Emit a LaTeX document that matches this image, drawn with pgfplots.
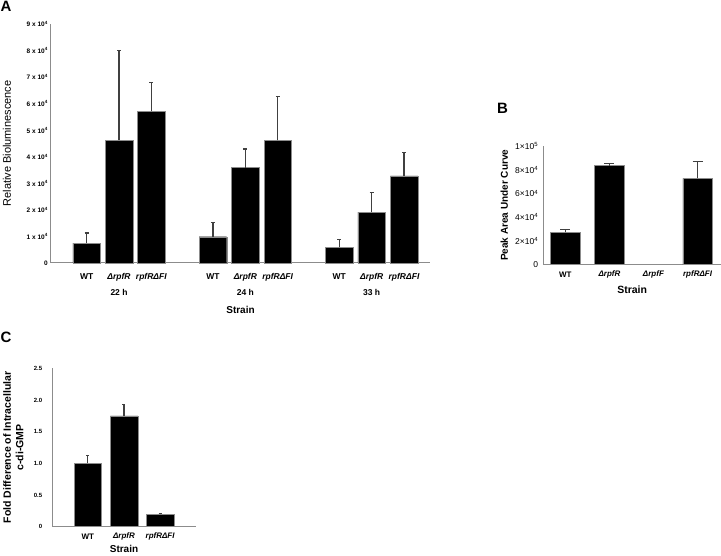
\documentclass[border=0pt]{standalone}
\usepackage{pgfplots}
\pgfplotsset{compat=1.18}
\usepackage{fontspec}
\setmainfont{Liberation Sans}
\definecolor{axgray}{HTML}{8C8C8C}
\definecolor{errgray}{HTML}{404040}
\pgfplotsset{
  panel/.style={
    scale only axis, clip=false,
    axis lines=left, axis line style={-, draw=axgray, line width=1pt},
    major tick length=0pt,
    yticklabel style={inner sep=0pt},
    every axis x label/.style={at={(axis description cs:0.5,0)}, anchor=center},
  },
  ylab/.style={every axis y label/.style={at={([xshift=-#1]axis description cs:0,0.5)}, rotate=90, anchor=center}},
  barplot/.style={
    ybar, bar shift=0pt, fill=black, draw=axgray, line width=0.4pt,
    error bars/.cd, y dir=plus, y explicit, error mark=|,
    error bar style={line width=1.3pt, errgray},
    error mark options={line width=1.3pt, errgray, mark size=#1},
    /pgfplots/.cd,
  },
}
\begin{document}
\begin{tikzpicture}[x=1pt,y=1pt]
\useasboundingbox (0,0) rectangle (721,556);

% panel A
\begin{axis}[panel, ylab=44pt,
  at={(51pt,293pt)}, anchor=south west,
  width=379pt, height=239pt,
  xmin=-1.1, xmax=10.6, ymin=0, ymax=9,
  ytick={0,1,...,9},
  yticklabels={0,1 x 10\textsuperscript{4},2 x 10\textsuperscript{4},3 x 10\textsuperscript{4},4 x 10\textsuperscript{4},5 x 10\textsuperscript{4},6 x 10\textsuperscript{4},7 x 10\textsuperscript{4},8 x 10\textsuperscript{4},9 x 10\textsuperscript{4}},
  yticklabel style={font=\fontsize{6.5}{7.5}\bfseries\selectfont, xshift=-3pt},
  xtick={0,1,2,3.9,4.9,5.9,7.8,8.8,9.8},
  xticklabels={WT,\textit{ΔrpfR},\textit{rpfRΔFI},WT,\textit{ΔrpfR},\textit{rpfRΔFI},WT,\textit{ΔrpfR},\textit{rpfRΔFI}},
  xticklabel style={font=\fontsize{8.5}{9}\bfseries\selectfont, anchor=center, yshift=-14pt},
  xlabel={Strain}, xlabel style={font=\fontsize{10}{11}\bfseries\selectfont, yshift=-47pt},
  ylabel={Relative Bioluminescence}, ylabel style={font=\fontsize{11}{12}\selectfont},
]
\addplot[bar width=27.5pt, barplot=2pt] coordinates {
  (0,0.75) +- (0,0.38)
  (1,4.63) +- (0,3.37)
  (2,5.71) +- (0,1.10)
  (3.9,0.99) +- (0,0.53)
  (4.9,3.59) +- (0,0.70)
  (5.9,4.62) +- (0,1.64)
  (7.8,0.59) +- (0,0.30)
  (8.8,1.92) +- (0,0.73)
  (9.8,3.28) +- (0,0.87)
};
\node[font=\fontsize{8.5}{9}\bfseries\selectfont] at (axis cs:1,0) [yshift=-29pt] {22 h};
\node[font=\fontsize{8.5}{9}\bfseries\selectfont] at (axis cs:4.9,0) [yshift=-29pt] {24 h};
\node[font=\fontsize{8.5}{9}\bfseries\selectfont] at (axis cs:8.8,0) [yshift=-29pt] {33 h};
\end{axis}

% panel B
\begin{axis}[panel, ylab=39pt,
  at={(543.3pt,291.3pt)}, anchor=south west,
  width=177.7pt, height=118.7pt,
  xmin=-0.5, xmax=3.53, ymin=0, ymax=100000,
  ytick={0,20000,40000,60000,80000,100000},
  yticklabels={0,2×10\textsuperscript{4},4×10\textsuperscript{4},6×10\textsuperscript{4},8×10\textsuperscript{4},1×10\textsuperscript{5}},
  yticklabel style={font=\fontsize{8.5}{9}\selectfont, xshift=-5pt},
  scaled y ticks=false,
  xtick={0,1,2,3},
  xticklabels={WT,\textit{ΔrpfR},\textit{ΔrpfF},\textit{rpfRΔFI}},
  xticklabel style={font=\fontsize{8}{9}\bfseries\selectfont, anchor=center, yshift=-10pt},
  xlabel={Strain}, xlabel style={font=\fontsize{10.5}{12}\bfseries\selectfont, yshift=-25pt},
  ylabel={Peak Area Under Curve}, ylabel style={font=\fontsize{10}{12}\bfseries\selectfont},
]
\addplot[bar width=29.5pt, barplot=5pt] coordinates {
  (0,27300) +- (0,2500)
  (1,83400) +- (0,2000)
  (3,72800) +- (0,14000)
};
\end{axis}

% panel C
\begin{axis}[panel, ylab=39pt,
  at={(52.3pt,29.3pt)}, anchor=south west,
  width=143.4pt, height=158.3pt,
  xmin=-0.98, xmax=2.98, ymin=0, ymax=2.5,
  ytick={0,0.5,1,1.5,2,2.5},
  yticklabels={0,0.5,1.0,1.5,2.0,2.5},
  yticklabel style={font=\fontsize{6}{7}\bfseries\selectfont, xshift=-10pt},
  xtick={0,1,2},
  xticklabels={WT,\textit{ΔrpfR},\textit{rpfRΔFI}},
  xticklabel style={font=\fontsize{8}{9}\bfseries\selectfont, anchor=center, yshift=-10pt},
  xlabel={Strain}, xlabel style={font=\fontsize{10}{11}\bfseries\selectfont, yshift=-22.5pt, inner sep=0pt},
  ylabel={Fold Difference of Intracellular\\c-di-GMP}, ylabel style={font=\fontsize{10.5}{12.5}\bfseries\selectfont, align=center},
]
\addplot[bar width=27.5pt, barplot=1.5pt] coordinates {
  (0,1.00) +- (0,0.12)
  (1,1.75) +- (0,0.18)
  (2,0.196) +- (0,0.015)
};
\end{axis}

\node[font=\fontsize{15}{16}\bfseries\selectfont] at (6,549.5) {A};
\node[font=\fontsize{15}{16}\bfseries\selectfont] at (502.5,447.5) {B};
\node[font=\fontsize{15}{16}\bfseries\selectfont] at (6,219) {C};
\end{tikzpicture}
\end{document}
